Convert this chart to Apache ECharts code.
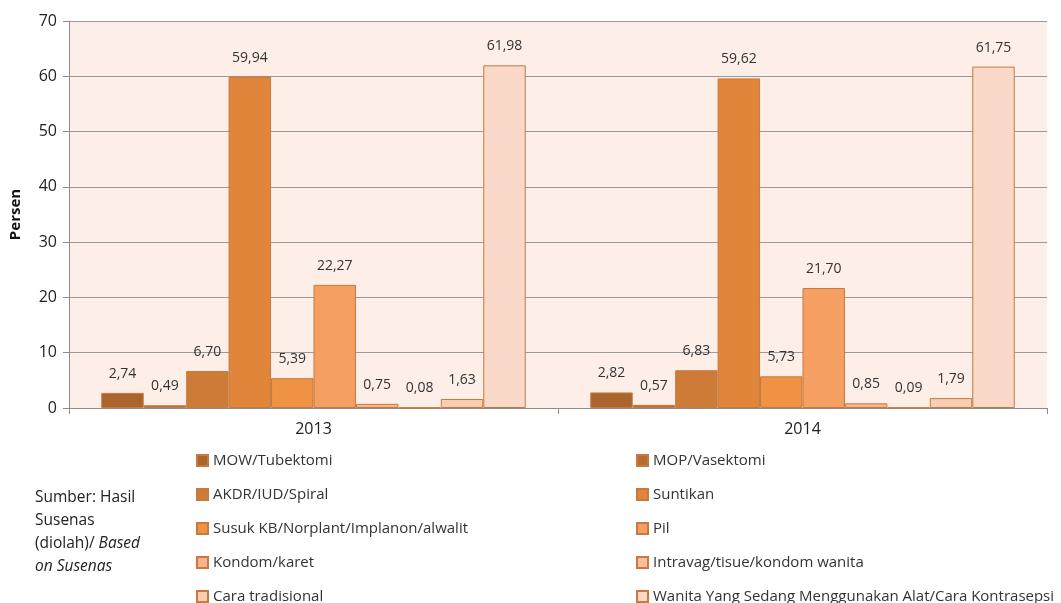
<!DOCTYPE html>
<html>
<head>
<meta charset="utf-8">
<script src="https://cdn.jsdelivr.net/npm/echarts@6/dist/echarts.min.js"></script>
<style>
  html, body { margin: 0; padding: 0; background: #fff; }
  #chart { width: 1061px; height: 603px; }
</style>
</head>
<body>
<div id="chart"></div>
<script>
const years = ["2013", "2014"];
const methods = [
  "MOW/Tubektomi",
  "MOP/Vasektomi",
  "AKDR/IUD/Spiral",
  "Suntikan",
  "Susuk KB/Norplant/Implanon/alwalit",
  "Pil",
  "Kondom/karet",
  "Intravag/tisue/kondom wanita",
  "Cara tradisional",
  "Wanita Yang Sedang Menggunakan Alat/Cara Kontrasepsi",
];
const values2013 = [2.74, 0.49, 6.70, 59.94, 5.39, 22.27, 0.75, 0.08, 1.63, 61.98];
const values2014 = [2.82, 0.57, 6.83, 59.62, 5.73, 21.70, 0.85, 0.09, 1.79, 61.75];
const colors = ["#a9652c", "#b86c30", "#cd7b36", "#e0853a", "#ef9244", "#f5a062", "#f7b48e", "#f8bf9f", "#fbcdb3", "#fad9c9"];

const chart = echarts.init(document.getElementById("chart"));
const fontFamily = "'Open Sans', sans-serif";

const series = methods.map((name, i) => ({
  name: name,
  type: "bar",
  data: [values2013[i], values2014[i]],
  barGap: "0%",
  barCategoryGap: "13.2%",
  itemStyle: { color: colors[i], borderColor: "#c47a40", borderWidth: 1 },
  label: {
    show: true,
    position: "top",
    distance: 12,
    color: "#333",
    fontSize: 14,
    fontFamily: fontFamily,
    formatter: (p) => p.value.toFixed(2).replace(".", ","),
  },
}));

// one legend per item: two columns, five rows
const legends = methods.map((name, i) => ({
  left: i % 2 === 0 ? 196 : 636,
  top: 453 + Math.floor(i / 2) * 34,
  padding: 0,
  itemWidth: 11,
  itemHeight: 11,
  icon: "rect",
  textStyle: { color: "#333", fontSize: 15, fontFamily: fontFamily },
  data: [name],
}));

chart.setOption({
  animation: false,
  color: colors,
  grid: { left: 68, right: 14, top: 21, bottom: 195, backgroundColor: "#fdeee8", show: true, borderWidth: 0 },
  legend: legends,
  xAxis: {
    type: "category",
    data: years,
    axisLine: { lineStyle: { color: "#8c8c8c" } },
    axisTick: { show: true, length: 6, lineStyle: { color: "#8c8c8c" } },
    axisLabel: { color: "#222", fontSize: 16, fontFamily: fontFamily, margin: 13 },
  },
  yAxis: {
    type: "value",
    min: 0,
    max: 70,
    interval: 10,
    name: "Persen",
    nameLocation: "middle",
    nameGap: 46,
    nameTextStyle: { color: "#111", fontSize: 15, fontWeight: "bold", fontFamily: fontFamily },
    axisLine: { show: true, lineStyle: { color: "#8c8c8c" } },
    axisTick: { show: true, length: 6, lineStyle: { color: "#8c8c8c" } },
    axisLabel: { color: "#222", fontSize: 16, fontFamily: fontFamily, margin: 12 },
    splitLine: { lineStyle: { color: "#9a9a9a" } },
  },
  graphic: [
    {
      type: "text",
      left: 35,
      top: 486,
      style: {
        text: "Sumber: Hasil\nSusenas\n(diolah)/ {i|Based}\n{i|on Susenas}",
        fontSize: 15.5,
        lineHeight: 23,
        fill: "#222",
        fontFamily: fontFamily,
        rich: { i: { fontStyle: "italic", fontSize: 15.5, fontFamily: fontFamily, fill: "#222" } },
      },
    },
  ],
  series: series,
});
</script>
</body>
</html>
